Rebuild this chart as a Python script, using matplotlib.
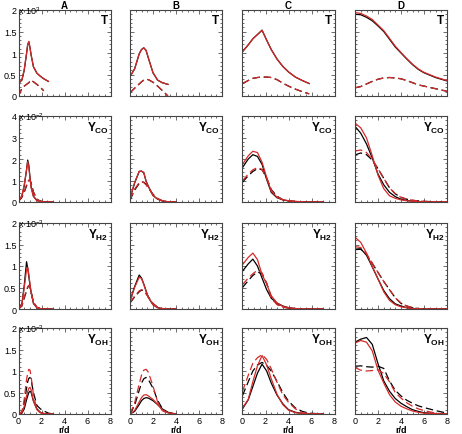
import numpy as np
import matplotlib
matplotlib.use("Agg")
import matplotlib.pyplot as plt
from matplotlib.ticker import MultipleLocator, FormatStrFormatter

nan = np.nan

# radial grids (r/d) for each column
rA = [0, 0.3, 0.5, 0.7, 0.8, 0.9, 1.0, 1.1, 1.3, 1.6, 1.9, 2.2, 2.6, 3.0]
rB = [0, 0.4, 0.8, 1.0, 1.2, 1.4, 1.6, 2.0, 2.4, 2.8, 3.3, 4.0]
rC = [0, 0.5, 0.9, 1.3, 1.7, 2.1, 2.5, 3.0, 3.5, 4.0, 4.6, 5.2, 5.8, 7.0]
rD = [0, 0.5, 1.0, 1.5, 2.0, 2.5, 3.0, 3.5, 4.0, 4.5, 5.0, 5.5, 6.0, 7.0, 8.0]

# ---- column A ----
T_A_blk = [0.29, 0.37, 0.60, 0.98, 1.19, 1.26, 1.12, 0.95, 0.68, 0.53, 0.46, 0.40, 0.34, nan]
T_A_red = [0.30, 0.38, 0.62, 1.00, 1.20, 1.27, 1.12, 0.95, 0.68, 0.53, 0.46, 0.40, 0.34, nan]
T_A_blk_d = [0.0, 0.18, 0.23, 0.27, 0.29, 0.31, 0.34, 0.37, 0.33, 0.27, 0.20, 0.12, nan, nan]
T_A_red_d = [0.0, 0.18, 0.23, 0.27, 0.29, 0.31, 0.34, 0.37, 0.33, 0.27, 0.20, 0.12, nan, nan]
CO_A_blk = [0.04, 0.28, 0.75, 1.50, 1.95, 1.70, 1.15, 0.70, 0.27, 0.07, 0.03, 0.01, 0.0, 0.0]
CO_A_red = [0.05, 0.30, 0.80, 1.50, 1.88, 1.60, 1.10, 0.65, 0.25, 0.06, 0.02, 0.01, 0.0, 0.0]
CO_A_blk_d = [0.03, 0.22, 0.45, 0.75, 0.90, 1.00, 1.03, 0.88, 0.47, 0.13, 0.04, 0.01, 0.0, 0.0]
CO_A_red_d = [0.03, 0.25, 0.50, 0.80, 0.95, 1.02, 1.00, 0.85, 0.45, 0.12, 0.04, 0.01, 0.0, 0.0]
H2_A_blk = [0.0, 0.13, 0.55, 1.10, 0.95, 0.75, 0.55, 0.38, 0.13, 0.03, 0.01, 0.0, 0.0, 0.0]
H2_A_red = [0.0, 0.12, 0.50, 0.92, 0.97, 0.80, 0.58, 0.38, 0.13, 0.03, 0.01, 0.0, 0.0, 0.0]
H2_A_blk_d = [0.0, 0.07, 0.25, 0.42, 0.50, 0.54, 0.50, 0.40, 0.16, 0.04, 0.01, 0.0, 0.0, 0.0]
H2_A_red_d = [0.0, 0.08, 0.28, 0.45, 0.52, 0.55, 0.50, 0.38, 0.15, 0.04, 0.01, 0.0, 0.0, 0.0]
OH_A_blk = [0.0, 0.02, 0.12, 0.33, 0.42, 0.50, 0.53, 0.50, 0.30, 0.12, 0.04, 0.01, 0.0, 0.0]
OH_A_red = [0.0, 0.03, 0.18, 0.42, 0.52, 0.60, 0.62, 0.56, 0.30, 0.10, 0.03, 0.01, 0.0, 0.0]
OH_A_blk_d = [0.0, 0.04, 0.25, 0.60, 0.75, 0.83, 0.85, 0.78, 0.50, 0.20, 0.12, 0.07, 0.02, 0.0]
OH_A_red_d = [0.0, 0.06, 0.35, 0.80, 0.95, 1.04, 1.02, 0.86, 0.45, 0.10, 0.03, 0.01, 0.0, 0.0]

# ---- column B ----
T_B_blk = [0.45, 0.63, 0.98, 1.08, 1.12, 1.06, 0.88, 0.54, 0.37, 0.31, 0.27, nan]
T_B_red = [0.45, 0.63, 0.98, 1.08, 1.12, 1.06, 0.88, 0.54, 0.37, 0.31, 0.27, nan]
T_B_blk_d = [0.075, 0.18, 0.28, 0.33, 0.37, 0.39, 0.38, 0.32, 0.23, 0.13, 0.0, nan]
T_B_red_d = [0.075, 0.18, 0.28, 0.33, 0.37, 0.39, 0.38, 0.32, 0.23, 0.13, 0.0, nan]
CO_B_blk = [0.17, 0.88, 1.42, 1.44, 1.35, 0.97, 0.72, 0.30, 0.13, 0.05, 0.01, 0.0]
CO_B_red = [0.18, 0.90, 1.43, 1.43, 1.38, 0.95, 0.72, 0.30, 0.14, 0.06, 0.01, 0.0]
CO_B_blk_d = [0.09, 0.55, 0.86, 0.94, 0.92, 0.82, 0.66, 0.36, 0.16, 0.06, 0.01, 0.0]
CO_B_red_d = [0.10, 0.60, 0.90, 0.95, 0.90, 0.80, 0.65, 0.35, 0.15, 0.06, 0.01, 0.0]
H2_B_blk = [0.19, 0.52, 0.79, 0.72, 0.58, 0.42, 0.27, 0.10, 0.03, 0.01, 0.0, 0.0]
H2_B_red = [0.18, 0.50, 0.74, 0.71, 0.57, 0.41, 0.27, 0.10, 0.03, 0.01, 0.0, 0.0]
H2_B_blk_d = [0.14, 0.28, 0.40, 0.44, 0.42, 0.36, 0.28, 0.13, 0.04, 0.01, 0.0, 0.0]
H2_B_red_d = [0.15, 0.30, 0.42, 0.45, 0.42, 0.35, 0.27, 0.12, 0.04, 0.01, 0.0, 0.0]
OH_B_blk = [0.0, 0.06, 0.22, 0.31, 0.36, 0.38, 0.37, 0.31, 0.22, 0.12, 0.04, 0.0]
OH_B_red = [0.0, 0.08, 0.28, 0.38, 0.44, 0.45, 0.42, 0.34, 0.22, 0.10, 0.03, 0.0]
OH_B_blk_d = [0.0, 0.20, 0.55, 0.72, 0.82, 0.85, 0.80, 0.60, 0.32, 0.13, 0.03, 0.0]
OH_B_red_d = [0.0, 0.25, 0.70, 0.90, 1.02, 1.04, 0.97, 0.65, 0.28, 0.08, 0.01, 0.0]

# ---- column C ----
T_C_blk = [1.03, 1.19, 1.33, 1.43, 1.53, 1.30, 1.08, 0.86, 0.69, 0.56, 0.44, 0.36, 0.29, nan]
T_C_red = [1.03, 1.19, 1.33, 1.43, 1.53, 1.30, 1.08, 0.86, 0.69, 0.56, 0.44, 0.36, 0.29, nan]
T_C_blk_d = [0.29, 0.36, 0.41, 0.43, 0.44, 0.44, 0.43, 0.38, 0.30, 0.23, 0.16, 0.10, 0.05, nan]
T_C_red_d = [0.29, 0.36, 0.41, 0.43, 0.44, 0.44, 0.43, 0.38, 0.30, 0.23, 0.16, 0.10, 0.05, nan]
CO_C_blk = [1.60, 2.00, 2.20, 2.12, 1.75, 1.05, 0.45, 0.20, 0.10, 0.05, 0.02, 0.01, 0.0, 0.0]
CO_C_red = [1.75, 2.15, 2.36, 2.30, 1.85, 1.15, 0.50, 0.22, 0.11, 0.06, 0.03, 0.01, 0.0, 0.0]
CO_C_blk_d = [0.92, 1.22, 1.42, 1.55, 1.50, 1.12, 0.58, 0.27, 0.11, 0.05, 0.02, 0.01, 0.0, 0.0]
CO_C_red_d = [0.99, 1.30, 1.50, 1.60, 1.52, 1.10, 0.55, 0.25, 0.10, 0.05, 0.02, 0.01, 0.0, 0.0]
H2_C_blk = [0.88, 1.05, 1.16, 1.00, 0.72, 0.45, 0.25, 0.14, 0.07, 0.03, 0.01, 0.0, 0.0, 0.0]
H2_C_red = [1.03, 1.20, 1.30, 1.15, 0.80, 0.58, 0.31, 0.14, 0.06, 0.03, 0.01, 0.0, 0.0, 0.0]
H2_C_blk_d = [0.50, 0.66, 0.78, 0.86, 0.82, 0.60, 0.28, 0.12, 0.05, 0.02, 0.01, 0.0, 0.0, 0.0]
H2_C_red_d = [0.57, 0.72, 0.82, 0.90, 0.84, 0.60, 0.25, 0.10, 0.04, 0.02, 0.01, 0.0, 0.0, 0.0]
OH_C_blk = [0.12, 0.33, 0.64, 0.95, 1.16, 1.00, 0.72, 0.44, 0.24, 0.10, 0.04, 0.01, 0.0, 0.0]
OH_C_red = [0.14, 0.34, 0.75, 1.12, 1.36, 1.14, 0.82, 0.46, 0.22, 0.09, 0.03, 0.01, 0.0, 0.0]
OH_C_blk_d = [0.43, 0.75, 1.00, 1.14, 1.20, 1.13, 1.00, 0.76, 0.50, 0.30, 0.14, 0.06, 0.02, 0.0]
OH_C_red_d = [0.53, 0.90, 1.18, 1.31, 1.38, 1.27, 1.05, 0.74, 0.45, 0.27, 0.12, 0.03, 0.01, 0.0]

# ---- column D ----
T_D_blk = [1.90, 1.89, 1.83, 1.75, 1.63, 1.50, 1.32, 1.14, 1.00, 0.86, 0.73, 0.62, 0.54, 0.43, 0.35]
T_D_red = [1.94, 1.92, 1.86, 1.78, 1.65, 1.52, 1.34, 1.16, 1.01, 0.87, 0.74, 0.63, 0.55, 0.44, 0.36]
T_D_blk_d = [0.19, 0.22, 0.28, 0.34, 0.39, 0.42, 0.43, 0.42, 0.40, 0.36, 0.31, 0.26, 0.23, 0.17, 0.11]
T_D_red_d = [0.19, 0.22, 0.28, 0.34, 0.39, 0.42, 0.43, 0.42, 0.40, 0.36, 0.31, 0.26, 0.23, 0.17, 0.11]
CO_D_blk = [3.52, 3.20, 2.70, 2.05, 1.30, 0.80, 0.45, 0.25, 0.13, 0.07, 0.04, 0.02, 0.01, 0.0, 0.0]
CO_D_red = [3.67, 3.45, 2.98, 2.15, 1.25, 0.62, 0.29, 0.17, 0.10, 0.06, 0.03, 0.02, 0.01, 0.0, 0.0]
CO_D_blk_d = [2.19, 2.28, 2.20, 1.95, 1.55, 1.10, 0.66, 0.38, 0.22, 0.13, 0.08, 0.05, 0.03, 0.01, 0.0]
CO_D_red_d = [2.37, 2.42, 2.30, 1.98, 1.55, 1.10, 0.66, 0.38, 0.22, 0.13, 0.08, 0.05, 0.03, 0.01, 0.0]
H2_D_blk = [1.39, 1.40, 1.25, 0.98, 0.70, 0.43, 0.24, 0.12, 0.07, 0.03, 0.01, 0.0, 0.0, 0.0, 0.0]
H2_D_red = [1.67, 1.55, 1.30, 0.99, 0.70, 0.40, 0.20, 0.10, 0.05, 0.03, 0.01, 0.0, 0.0, 0.0, 0.0]
H2_D_blk_d = [1.38, 1.39, 1.27, 1.06, 0.85, 0.64, 0.45, 0.26, 0.13, 0.07, 0.03, 0.01, 0.0, 0.0, 0.0]
H2_D_red_d = [1.45, 1.43, 1.28, 1.07, 0.85, 0.64, 0.45, 0.26, 0.14, 0.07, 0.03, 0.01, 0.0, 0.0, 0.0]
OH_D_blk = [1.67, 1.74, 1.78, 1.62, 1.17, 0.77, 0.53, 0.36, 0.25, 0.17, 0.10, 0.06, 0.03, 0.01, 0.0]
OH_D_red = [1.65, 1.71, 1.67, 1.47, 1.02, 0.72, 0.45, 0.28, 0.18, 0.12, 0.07, 0.04, 0.02, 0.01, 0.0]
OH_D_blk_d = [1.11, 1.12, 1.10, 1.09, 1.11, 1.06, 0.77, 0.55, 0.42, 0.32, 0.25, 0.19, 0.15, 0.08, 0.02]
OH_D_red_d = [1.08, 1.02, 1.00, 1.01, 1.03, 0.94, 0.75, 0.50, 0.37, 0.26, 0.18, 0.12, 0.08, 0.02, 0.0]

col_titles = ["A", "B", "C", "D"]
row_labels = [r"$\mathbf{T}$", r"$\mathbf{Y_{CO}}$", r"$\mathbf{Y_{H2}}$", r"$\mathbf{Y_{OH}}$"]
row_scales = [r"x 10$^{3}$", r"x 10$^{-2}$", r"x 10$^{-3}$", r"x 10$^{-3}$"]
row_ymax = [2, 4, 2, 2]
row_major = [0.5, 1, 0.5, 0.5]
row_minor = [0.1, 0.2, 0.1, 0.1]

radii = [rA, rB, rC, rD]
data = [
    [(T_A_blk, T_A_red, T_A_blk_d, T_A_red_d), (T_B_blk, T_B_red, T_B_blk_d, T_B_red_d),
     (T_C_blk, T_C_red, T_C_blk_d, T_C_red_d), (T_D_blk, T_D_red, T_D_blk_d, T_D_red_d)],
    [(CO_A_blk, CO_A_red, CO_A_blk_d, CO_A_red_d), (CO_B_blk, CO_B_red, CO_B_blk_d, CO_B_red_d),
     (CO_C_blk, CO_C_red, CO_C_blk_d, CO_C_red_d), (CO_D_blk, CO_D_red, CO_D_blk_d, CO_D_red_d)],
    [(H2_A_blk, H2_A_red, H2_A_blk_d, H2_A_red_d), (H2_B_blk, H2_B_red, H2_B_blk_d, H2_B_red_d),
     (H2_C_blk, H2_C_red, H2_C_blk_d, H2_C_red_d), (H2_D_blk, H2_D_red, H2_D_blk_d, H2_D_red_d)],
    [(OH_A_blk, OH_A_red, OH_A_blk_d, OH_A_red_d), (OH_B_blk, OH_B_red, OH_B_blk_d, OH_B_red_d),
     (OH_C_blk, OH_C_red, OH_C_blk_d, OH_C_red_d), (OH_D_blk, OH_D_red, OH_D_blk_d, OH_D_red_d)],
]

plt.rcParams['font.family'] = ['Liberation Sans', 'DejaVu Sans']
plt.rcParams['mathtext.fontset'] = 'custom'
plt.rcParams['mathtext.bf'] = 'Liberation Sans:bold'
plt.rcParams['mathtext.rm'] = 'Liberation Sans'

W, H = 462, 435
fig = plt.figure(figsize=(W / 100, H / 100), dpi=100)

lefts = [18.5, 130, 242.5, 355]
tops = [11, 117, 224, 329]
aw, ah = 92, 86
red = '#d42a2a'
dash = (0, (6, 3))

for i in range(4):
    for j in range(4):
        ax = fig.add_axes([lefts[j] / W, 1 - (tops[i] + ah) / H, aw / W, ah / H])
        r = radii[j]
        blk, rd, blk_d, rd_d = data[i][j]
        ax.plot(r, blk, color='black', lw=0.9)
        ax.plot(r, blk_d, color='black', lw=0.9, linestyle=dash)
        ax.plot(r, rd, color=red, lw=0.9)
        ax.plot(r, rd_d, color=red, lw=0.9, linestyle=dash)
        ax.set_xlim(0, 8)
        ax.set_ylim(0, row_ymax[i])
        ax.xaxis.set_major_locator(MultipleLocator(2))
        ax.xaxis.set_minor_locator(MultipleLocator(0.5))
        ax.yaxis.set_major_locator(MultipleLocator(row_major[i]))
        ax.yaxis.set_minor_locator(MultipleLocator(row_minor[i]))
        ax.yaxis.set_major_formatter(FormatStrFormatter('%g'))
        ax.tick_params(which='both', direction='in', top=True, right=True,
                       labelsize=6.5, pad=1.5, width=0.6, colors='#555555',
                       labelcolor='black')
        ax.tick_params(which='major', length=3)
        ax.tick_params(which='minor', length=1.5)
        for s in ax.spines.values():
            s.set_linewidth(0.8)
            s.set_color('#444444')
        if j > 0:
            ax.set_yticklabels([])
        else:
            ax.text(0.0, 1.0, row_scales[i], transform=ax.transAxes,
                    fontsize=6.5, ha='left', va='center')
        if i < 3:
            ax.set_xticklabels([])
        else:
            ax.set_xlabel('r/d', fontsize=6.5, fontweight='bold', labelpad=0)
        if i == 0:
            ax.set_title(col_titles[j], fontsize=7, fontweight='bold', pad=1.5)
        ax.text(0.98, 0.96, row_labels[i], transform=ax.transAxes,
                fontsize=8.5, ha='right', va='top')

fig.savefig('out.png', dpi=100)
